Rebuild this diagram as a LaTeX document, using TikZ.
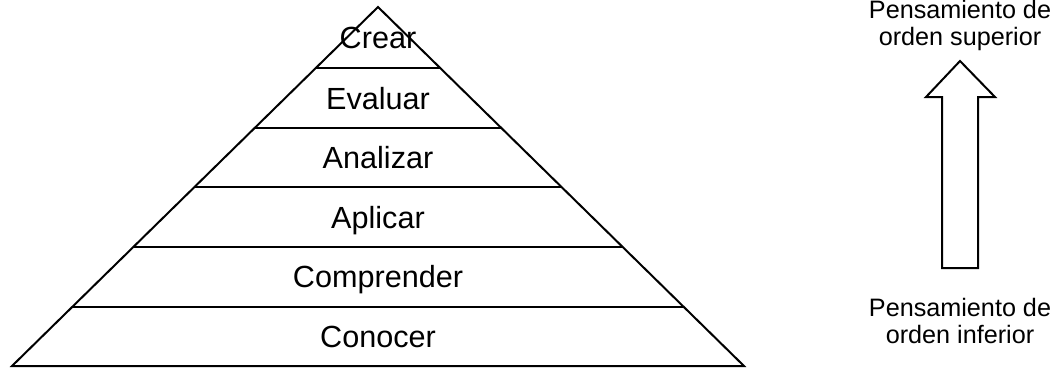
\documentclass[tikz,border=0pt]{standalone}
\usepackage{fontspec}
\setmainfont{Liberation Sans}
\usetikzlibrary{calc}
\begin{document}
\begin{tikzpicture}[x=1pt,y=-1pt,
  edge/.style={draw=black,line width=2pt,line join=miter},
  lvl/.style={font=\fontsize{30.6}{36}\selectfont,anchor=base,inner sep=0pt},
  side/.style={font=\fontsize{25.2}{27}\selectfont,anchor=base,inner sep=0pt}]
\useasboundingbox (0,0) rectangle (1057,368);
% pyramid corners
\coordinate (apex) at (378,7);
\coordinate (bl) at (12,366);
\coordinate (br) at (744,366);
\draw[edge] (bl) -- (apex) -- (br) -- cycle;
% layer separators
\foreach \yy in {68.3,127.9,187.4,247,306.6}{
  \draw[edge] ($(apex)!{(\yy-7)/359}!(bl)$) -- ($(apex)!{(\yy-7)/359}!(br)$);
}
\node[lvl] (crear) at (378,48.5) {Crear};
\node[lvl] (evaluar) at (378,109) {Evaluar};
\node[lvl] (analizar) at (378,168.6) {Analizar};
\node[lvl] (aplicar) at (378,228.2) {Aplicar};
\node[lvl] (comprender) at (378,287.8) {Comprender};
\node[lvl] (conocer) at (378,347.3) {Conocer};
% side labels
\node[side] (sup1) at (960,18) {Pensamiento de};
\node[side] (sup2) at (960,45) {orden superior};
\node[side] (inf1) at (960,316) {Pensamiento de};
\node[side] (inf2) at (960,343) {orden inferior};
% hollow arrow
\draw[edge] (960,61) -- (995,97) -- (978,97) -- (978,268) -- (942,268) -- (942,97) -- (926,97) -- cycle;
\end{tikzpicture}
\end{document}
